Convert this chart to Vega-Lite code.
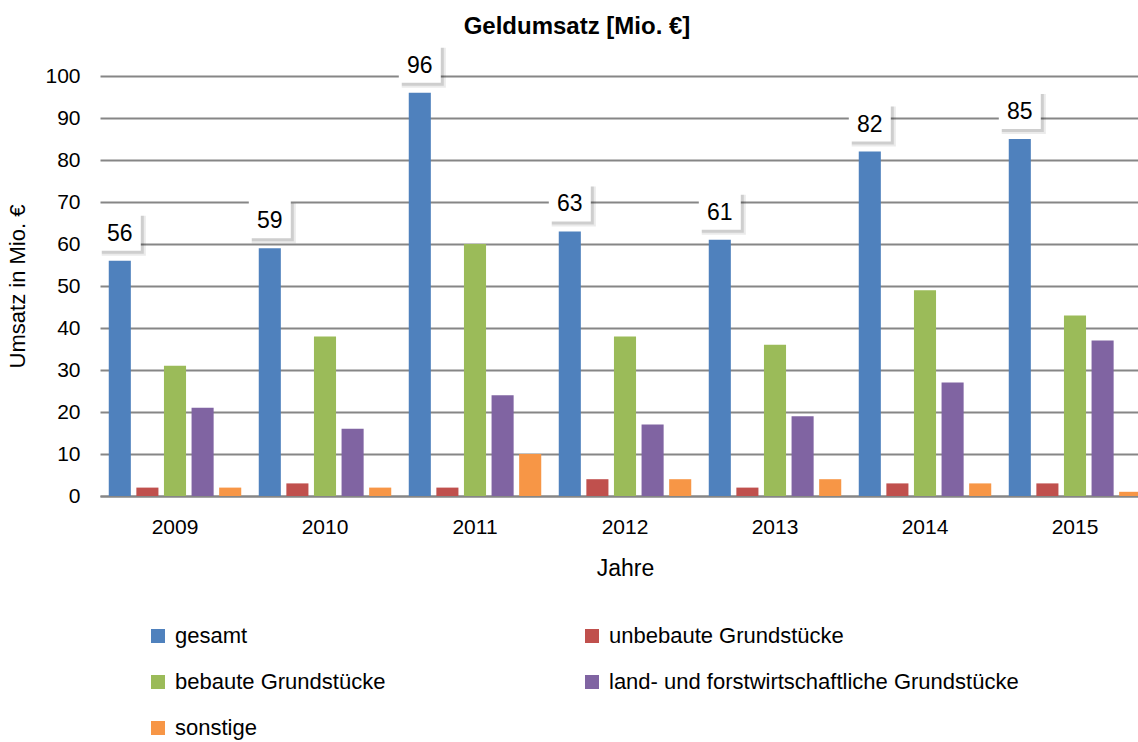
{
  "$schema": "https://vega.github.io/schema/vega-lite/v6.json",
  "width": 1050,
  "height": 420,
  "autosize": "none",
  "padding": {"left": 100, "top": 76, "right": 0, "bottom": 246},
  "config": {
    "font": "Liberation Sans",
    "view": {"stroke": null}
  },
  "title": {
    "text": "Geldumsatz [Mio. €]",
    "fontSize": 24,
    "fontWeight": "bold",
    "color": "#000000",
    "dx": -48,
    "dy": 4,
    "offset": 10
  },
  "data": {
    "values": [
      {"Jahr": "2009", "Reihe": "gesamt", "Wert": 56},
      {"Jahr": "2009", "Reihe": "unbebaute Grundstücke", "Wert": 2},
      {"Jahr": "2009", "Reihe": "bebaute Grundstücke", "Wert": 31},
      {"Jahr": "2009", "Reihe": "land- und forstwirtschaftliche Grundstücke", "Wert": 21},
      {"Jahr": "2009", "Reihe": "sonstige", "Wert": 2},
      {"Jahr": "2010", "Reihe": "gesamt", "Wert": 59},
      {"Jahr": "2010", "Reihe": "unbebaute Grundstücke", "Wert": 3},
      {"Jahr": "2010", "Reihe": "bebaute Grundstücke", "Wert": 38},
      {"Jahr": "2010", "Reihe": "land- und forstwirtschaftliche Grundstücke", "Wert": 16},
      {"Jahr": "2010", "Reihe": "sonstige", "Wert": 2},
      {"Jahr": "2011", "Reihe": "gesamt", "Wert": 96},
      {"Jahr": "2011", "Reihe": "unbebaute Grundstücke", "Wert": 2},
      {"Jahr": "2011", "Reihe": "bebaute Grundstücke", "Wert": 60},
      {"Jahr": "2011", "Reihe": "land- und forstwirtschaftliche Grundstücke", "Wert": 24},
      {"Jahr": "2011", "Reihe": "sonstige", "Wert": 10},
      {"Jahr": "2012", "Reihe": "gesamt", "Wert": 63},
      {"Jahr": "2012", "Reihe": "unbebaute Grundstücke", "Wert": 4},
      {"Jahr": "2012", "Reihe": "bebaute Grundstücke", "Wert": 38},
      {"Jahr": "2012", "Reihe": "land- und forstwirtschaftliche Grundstücke", "Wert": 17},
      {"Jahr": "2012", "Reihe": "sonstige", "Wert": 4},
      {"Jahr": "2013", "Reihe": "gesamt", "Wert": 61},
      {"Jahr": "2013", "Reihe": "unbebaute Grundstücke", "Wert": 2},
      {"Jahr": "2013", "Reihe": "bebaute Grundstücke", "Wert": 36},
      {"Jahr": "2013", "Reihe": "land- und forstwirtschaftliche Grundstücke", "Wert": 19},
      {"Jahr": "2013", "Reihe": "sonstige", "Wert": 4},
      {"Jahr": "2014", "Reihe": "gesamt", "Wert": 82},
      {"Jahr": "2014", "Reihe": "unbebaute Grundstücke", "Wert": 3},
      {"Jahr": "2014", "Reihe": "bebaute Grundstücke", "Wert": 49},
      {"Jahr": "2014", "Reihe": "land- und forstwirtschaftliche Grundstücke", "Wert": 27},
      {"Jahr": "2014", "Reihe": "sonstige", "Wert": 3},
      {"Jahr": "2015", "Reihe": "gesamt", "Wert": 85},
      {"Jahr": "2015", "Reihe": "unbebaute Grundstücke", "Wert": 3},
      {"Jahr": "2015", "Reihe": "bebaute Grundstücke", "Wert": 43},
      {"Jahr": "2015", "Reihe": "land- und forstwirtschaftliche Grundstücke", "Wert": 37},
      {"Jahr": "2015", "Reihe": "sonstige", "Wert": 1}
    ]
  },
  "encoding": {
    "x": {
      "field": "Jahr",
      "type": "nominal",
      "scale": {"paddingInner": 0.08, "paddingOuter": 0.04},
      "axis": {
        "title": "Jahre",
        "labelAngle": 0,
        "labelFontSize": 21,
        "labelColor": "#000000",
        "labelPadding": 20,
        "ticks": false,
        "domainColor": "#868686",
        "domainWidth": 2,
        "titleFontSize": 23,
        "titleFontWeight": "normal",
        "titleColor": "#000000",
        "titlePadding": 20
      }
    },
    "y": {
      "field": "Wert",
      "type": "quantitative",
      "scale": {"domain": [0, 100], "nice": false},
      "axis": {
        "title": "Umsatz in Mio. €",
        "values": [0, 10, 20, 30, 40, 50, 60, 70, 80, 90, 100],
        "grid": true,
        "gridColor": "#868686",
        "gridWidth": 2,
        "domain": false,
        "ticks": false,
        "labelFontSize": 21,
        "labelColor": "#000000",
        "labelPadding": 20,
        "titleFontSize": 22,
        "titleFontWeight": "normal",
        "titleColor": "#000000",
        "titlePadding": 15
      }
    }
  },
  "layer": [
    {
      "mark": {"type": "bar"},
      "encoding": {
        "xOffset": {
          "field": "Reihe",
          "type": "nominal",
          "sort": ["gesamt", "unbebaute Grundstücke", "bebaute Grundstücke", "land- und forstwirtschaftliche Grundstücke", "sonstige"],
          "scale": {"paddingInner": 0.2, "paddingOuter": 0.1}
        },
        "color": {
          "field": "Reihe",
          "type": "nominal",
          "scale": {
            "domain": ["gesamt", "unbebaute Grundstücke", "bebaute Grundstücke", "land- und forstwirtschaftliche Grundstücke", "sonstige"],
            "range": ["#4F81BD", "#C0504D", "#9BBB59", "#8064A2", "#F79646"]
          },
          "legend": {
            "title": null,
            "orient": "none",
            "legendX": 47,
            "legendY": 549,
            "columns": 2,
            "direction": "horizontal",
            "gridAlign": "each",
            "columnPadding": 195,
            "rowPadding": 24,
            "symbolType": "square",
            "symbolSize": 196,
            "symbolStrokeWidth": 0,
            "labelFontSize": 22,
            "labelColor": "#000000",
            "labelLimit": 600,
            "labelOffset": 6
          }
        }
      }
    },
    {
      "transform": [{"filter": "datum.Reihe == 'gesamt'"}],
      "mark": {"type": "point", "shape": "M-1.105,-1H1.105V1H-1.105Z", "size": 1600, "filled": true, "color": "#000000", "opacity": 0.08, "xOffset": 4, "yOffset": -25},
      "encoding": {"x": {"field": "Jahr", "type": "nominal", "bandPosition": 0.1}}
    },
    {
      "transform": [{"filter": "datum.Reihe == 'gesamt'"}],
      "mark": {"type": "point", "shape": "M-1.105,-1H1.105V1H-1.105Z", "size": 1444, "filled": true, "color": "#000000", "opacity": 0.12, "xOffset": 3, "yOffset": -26},
      "encoding": {"x": {"field": "Jahr", "type": "nominal", "bandPosition": 0.1}}
    },
    {
      "transform": [{"filter": "datum.Reihe == 'gesamt'"}],
      "mark": {"type": "point", "shape": "M-1.105,-1H1.105V1H-1.105Z", "size": 1444, "filled": true, "color": "#FFFFFF", "opacity": 1, "yOffset": -29},
      "encoding": {"x": {"field": "Jahr", "type": "nominal", "bandPosition": 0.1}}
    },
    {
      "transform": [{"filter": "datum.Reihe == 'gesamt'"}],
      "mark": {"type": "text", "fontSize": 23, "color": "#000000", "baseline": "middle", "align": "center", "yOffset": -27},
      "encoding": {
        "x": {"field": "Jahr", "type": "nominal", "bandPosition": 0.1},
        "text": {"field": "Wert", "type": "quantitative"}
      }
    }
  ]
}
